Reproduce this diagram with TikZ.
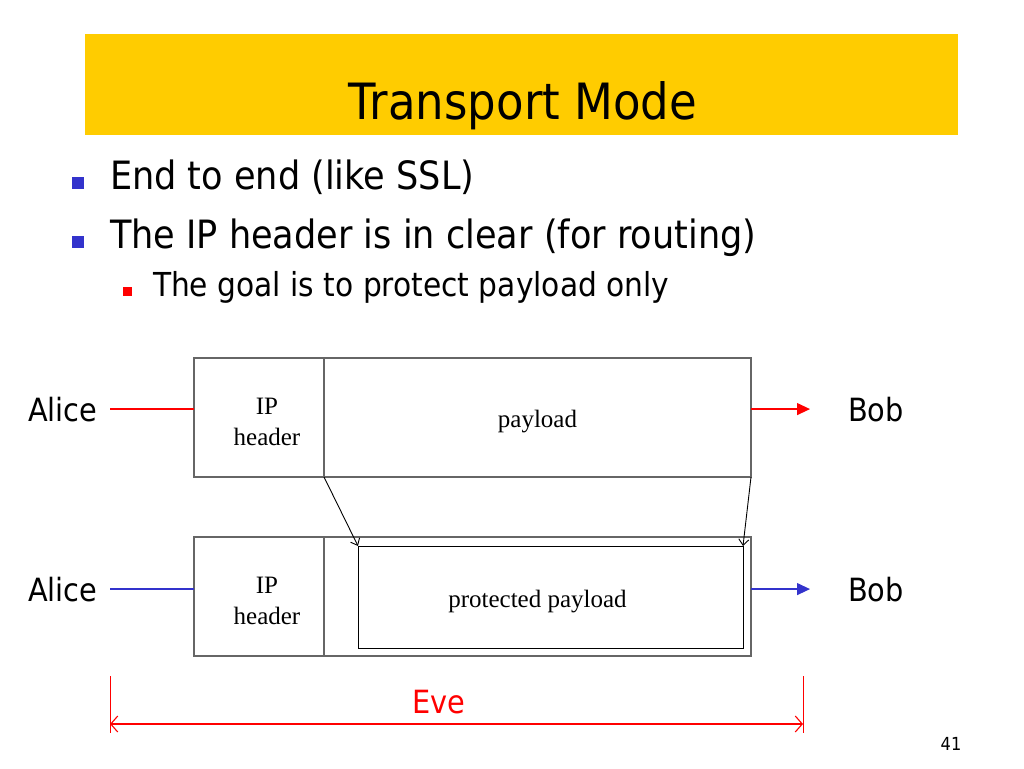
\documentclass[tikz,border=0pt]{standalone}
\usepackage{fontspec}
\newfontfamily\slidefont[FakeStretch=0.9]{DejaVu Sans}
\newfontfamily\boxfont{Liberation Serif}
\usetikzlibrary{arrows.meta, positioning}
\definecolor{banneryellow}{HTML}{FFCC00}
\definecolor{bulletblue}{HTML}{3333CC}
\definecolor{wirered}{HTML}{FF0000}
\definecolor{wireblue}{HTML}{3333CC}

\begin{document}
\begin{tikzpicture}[x=1pt, y=-1pt,
    every node/.style={inner sep=0pt, outer sep=0pt},
    pktbox/.style={draw=black!60, line width=1.1pt, minimum height=119pt, anchor=north west},
    boxtext/.style={font=\boxfont\fontsize{25}{31}\selectfont, align=center},
    party/.style={font=\slidefont\fontsize{32}{36}\selectfont, anchor=base west},
    bullettext/.style={font=\slidefont\fontsize{39}{44}\selectfont, anchor=base west},
    subtext/.style={font=\slidefont\fontsize{33}{38}\selectfont, anchor=base west},
    redwire/.style={color=wirered, line width=1.2pt},
    bluewire/.style={color=wireblue, line width=1.2pt},
    wiretip/.style={-{Triangle[length=13pt, width=12pt]}},
    maparrow/.style={color=black, line width=0.9pt, -{Straight Barb[length=6pt, width=10pt]}}]
  \useasboundingbox (0,0) rectangle (1024,768);
  % Title bar
  \fill[banneryellow] (85,34) rectangle (958,135);
  \node[font=\slidefont\fontsize{50}{56}\selectfont, anchor=base] (title) at (523,119) {Transport Mode};
  % Bullets
  \node[fill=bulletblue, minimum size=12pt, anchor=south west] (sq1) at (72,189) {};
  \node[bullettext] (item1) at (110,189) {End to end (like SSL)};
  \node[fill=bulletblue, minimum size=12pt, anchor=south west] (sq2) at (72,248) {};
  \node[bullettext] (item2) at (110,248) {The IP header is in clear (for routing)};
  \node[fill=wirered, minimum size=9pt, anchor=south west] (sq3) at (123,296) {};
  \node[subtext] (item3) at (153,296) {The goal is to protect payload only};
  % Plain packet
  \node[pktbox, minimum width=130pt] (hdrA) at (194,358) {};
  \node[pktbox, minimum width=427pt] (payA) at (324,358) {};
  \node[boxtext] (hdrAtxt) at ([xshift=8pt, yshift=-4pt]hdrA.center) {IP\\header};
  \node[boxtext] (payAtxt) at ([yshift=-4pt]payA.center) {payload};
  % Protected packet
  \node[pktbox, minimum width=130pt] (hdrB) at (194,537) {};
  \node[pktbox, minimum width=427pt] (payB) at (324,537) {};
  \node[draw=black, line width=1pt, minimum width=385pt, minimum height=102pt, anchor=north west] (prot) at (358,546) {};
  \node[boxtext] (hdrBtxt) at ([xshift=8pt, yshift=-4pt]hdrB.center) {IP\\header};
  \node[boxtext] (payBtxt) at ([yshift=-5pt]payB.center) {protected payload};
  % Mapping
  \draw[maparrow] (payA.south west) -- (prot.north west);
  \draw[maparrow] (payA.south east) -- (prot.north east);
  % Alice and Bob
  \node[party] (aliceA) at (28,421) {Alice};
  \node[party] (bobA) at (848,421) {Bob};
  \node[party] (aliceB) at (28,601) {Alice};
  \node[party] (bobB) at (848,601) {Bob};
  \draw[redwire] ([xshift=13pt]aliceA.east) -- (aliceA.east -| hdrA.west);
  \draw[redwire, wiretip] (bobA.west -| payA.east) -- ([xshift=-38pt]bobA.west);
  \draw[bluewire] ([xshift=13pt]aliceB.east) -- (aliceB.east -| hdrB.west);
  \draw[bluewire, wiretip] (bobB.west -| payB.east) -- ([xshift=-38pt]bobB.west);
  % Eve
  \node[font=\slidefont\fontsize{32}{36}\selectfont, text=wirered, anchor=base] (eve) at (439,713) {Eve};
  \coordinate (eveL) at (110,724);
  \coordinate (eveR) at (803,724);
  \draw[wirered, line width=1pt] ([yshift=48pt]eveL) -- ([yshift=-9pt]eveL);
  \draw[wirered, line width=1pt] ([yshift=48pt]eveR) -- ([yshift=-9pt]eveR);
  \draw[wirered, line width=1.1pt, {Straight Barb[length=7pt, width=16pt]}-{Straight Barb[length=7pt, width=16pt]}] (eveL) -- (eveR);
  % Page number
  \node[font=\slidefont\fontsize{18}{20}\selectfont, anchor=base] (page) at (951,750) {41};
\end{tikzpicture}
\end{document}
